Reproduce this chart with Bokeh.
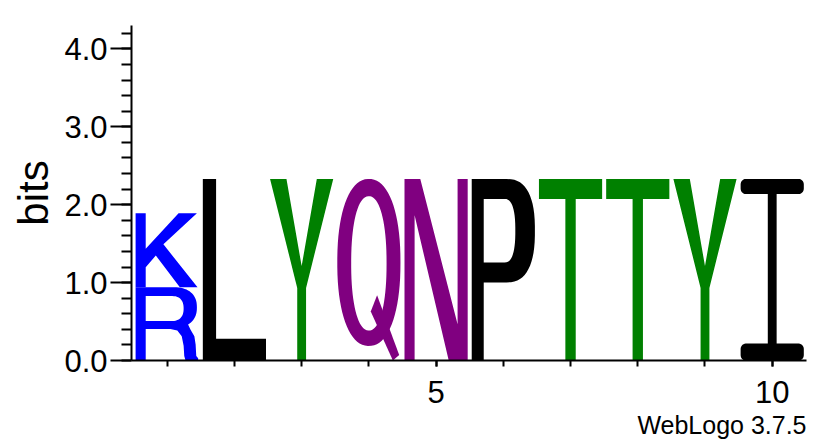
import numpy as np
from bokeh.plotting import figure
from bokeh.models import ColumnDataSource, FixedTicker, Title
from bokeh.embed import file_html
from bokeh.resources import INLINE

# ---------------- data ----------------
positions = [1, 2, 3, 4, 5, 6, 7, 8, 9, 10]
stack_letters = [["R", "K"], ["L"], ["Y"], ["Q"], ["N"], ["P"], ["T"], ["T"], ["Y"], ["I"]]
stack_heights = [[0.94, 0.95], [2.33], [2.33], [2.33], [2.33], [2.33], [2.33], [2.33], [2.33], [2.33]]
letter_colors = {"K": "#0000FF", "R": "#0000FF", "L": "#000000", "P": "#000000", "I": "#000000",
                 "Y": "#008000", "T": "#008000", "Q": "#800080", "N": "#800080"}
y_major_ticks = [0, 1, 2, 3, 4]
y_tick_labels = ["0.0", "1.0", "2.0", "3.0", "4.0"]
x_major_ticks = [5, 10]
x_tick_labels = ["5", "10"]
y_label = "bits"
credit = "WebLogo 3.7.5"

# ------------- letter outlines in a unit box (glyph templates) -------------
def arc(cx, cy, rx, ry, a0, a1, n=28, p=1.0):
    t = np.radians(np.linspace(a0, a1, n))
    c, s = np.cos(t), np.sin(t)
    x = cx + rx * np.sign(c) * np.abs(c) ** p
    y = cy + ry * np.sign(s) * np.abs(s) ** p
    return [(float(a), float(b)) for a, b in zip(x, y)]


def orient(ring, ccw=True):
    a = np.array(ring)
    x, y = a[:, 0], a[:, 1]
    area = 0.5 * np.sum(x * np.roll(y, -1) - np.roll(x, -1) * y)
    if (area > 0) != ccw:
        ring = ring[::-1]
    return ring


def poly(outer, *holes):
    return [orient(outer, True)] + [orient(h, False) for h in holes]


def rounded_I():
    rx, ry, hb, ht, s0, s1 = 0.08, 0.03, 0.093, 0.083, 0.43, 0.57
    pts = []
    pts += arc(rx, ry, rx, ry, 180, 270, 8)
    pts += arc(1 - rx, ry, rx, ry, 270, 360, 8)
    pts += arc(1 - rx, hb - ry, rx, ry, 0, 90, 8)
    pts += [(s1, hb), (s1, 1 - ht)]
    pts += arc(1 - rx, 1 - ht + ry, rx, ry, 270, 360, 8)
    pts += arc(1 - rx, 1 - ry, rx, ry, 0, 90, 8)
    pts += arc(rx, 1 - ry, rx, ry, 90, 180, 8)
    pts += arc(rx, 1 - ht + ry, rx, ry, 180, 270, 8)
    pts += [(s0, 1 - ht), (s0, hb)]
    pts += arc(rx, hb - ry, rx, ry, 90, 180, 8)
    return pts


SHAPES = {
    "L": [poly([(0, 0), (1, 0), (1, 0.12), (0.21, 0.12), (0.21, 1), (0, 1)])],
    "T": [poly([(0, 1), (0, 0.89), (0.418, 0.89), (0.418, 0), (0.582, 0), (0.582, 0.89), (1, 0.89), (1, 1)])],
    "Y": [poly([(0, 1), (0.26, 1), (0.50, 0.52), (0.74, 1), (1, 1), (0.57, 0.40), (0.57, 0),
                (0.43, 0), (0.43, 0.40)])],
    "N": [poly([(0, 0), (0.16, 0), (0.16, 0.80), (0.70, 0), (1, 0), (1, 1), (0.84, 1), (0.84, 0.20),
                (0.25, 1), (0, 1)])],
    "K": [poly([(0, 0), (0.16, 0), (0.16, 0.27), (0.32, 0.43), (0.70, 0), (0.98, 0), (0.44, 0.58),
                (0.97, 1), (0.68, 1), (0.16, 0.52), (0.16, 1), (0, 1)])],
    "P": [poly([(0, 0), (0.19, 0), (0.19, 0.43), (0.55, 0.43)]
               + arc(0.55, 0.715, 0.45, 0.285, -90, 90, 32, 0.8) + [(0, 1)],
               [(0.19, 0.54), (0.52, 0.54)] + arc(0.52, 0.715, 0.17, 0.175, -90, 90, 28, 0.8)
               + [(0.19, 0.89)])],
    "R": [poly([(0, 0), (0.16, 0), (0.16, 0.43), (0.55, 0.43), (0.66, 0.41), (0.73, 0.33),
                (0.76, 0.20), (0.77, 0.06), (0.79, 0), (0.99, 0), (0.99, 0.03), (0.96, 0.06),
                (0.95, 0.22), (0.93, 0.33), (0.87, 0.42)]
               + arc(0.60, 0.725, 0.37, 0.275, -55, 90, 30, 0.85) + [(0, 1)],
               [(0.16, 0.54), (0.58, 0.54)] + arc(0.58, 0.71, 0.18, 0.17, -90, 90, 28, 0.85)
               + [(0.16, 0.88)])],
    "Q": [poly(arc(0.5, 0.54, 0.5, 0.46, 0, 360, 80, 0.9)[:-1],
               arc(0.5, 0.535, 0.28, 0.37, 0, 360, 80, 0.9)[:-1]),
          poly([(0.53, 0.27), (0.63, 0.36), (0.98, 0.03), (0.88, 0.0)])],
    "I": [poly(rounded_I())],
}

PAD = 0.03
rows_xs, rows_ys, rows_c = [], [], []
for pos, letters, heights in zip(positions, stack_letters, stack_heights):
    base = 0.0
    for letter, h in zip(letters, heights):
        for pg in SHAPES[letter]:
            rows_xs.append([[[pos - 0.5 + PAD + ux * (1 - 2 * PAD) for ux, uy in ring] for ring in pg]])
            rows_ys.append([[[base + uy * h for ux, uy in ring] for ring in pg]])
            rows_c.append(letter_colors[letter])
        base += h

src = ColumnDataSource(dict(xs=rows_xs, ys=rows_ys, color=rows_c))

# ---------------- figure ----------------
FONT = "Liberation Sans"
p = figure(frame_width=675, frame_height=335, x_range=(0.469, 10.51), y_range=(0, 4.3),
           output_backend="svg", toolbar_location=None,
           min_border_left=131, min_border_right=25, min_border_top=25, min_border_bottom=0)
p.grid.visible = False
p.outline_line_color = None
p.background_fill_color = "white"
p.border_fill_color = "white"

p.multi_polygons(xs="xs", ys="ys", fill_color="color", line_color=None, source=src)

xa = p.xaxis[0]
xa.ticker = FixedTicker(ticks=x_major_ticks, minor_ticks=positions)
xa.major_label_overrides = {t: s for t, s in zip(x_major_ticks, x_tick_labels)}
xa.major_tick_out = 6
xa.major_tick_in = 0
xa.minor_tick_out = 6
xa.minor_tick_in = 0
xa.major_label_standoff = 14

ya = p.yaxis[0]
ya.ticker = FixedTicker(ticks=y_major_ticks, minor_ticks=list(np.round(np.arange(0, 4.3, 0.2), 1)))
ya.major_label_overrides = {t: s for t, s in zip(y_major_ticks, y_tick_labels)}
ya.major_tick_out = 21
ya.major_tick_in = 0
ya.minor_tick_out = 10
ya.minor_tick_in = 0
ya.major_label_standoff = 3
ya.axis_label = y_label
ya.axis_label_standoff = 4
ya.axis_label_text_font_size = "42px"
ya.axis_label_text_font_style = "normal"
ya.axis_label_text_font = FONT
ya.axis_label_text_color = "black"

for ax in (xa, ya):
    ax.axis_line_width = 2
    ax.axis_line_color = "black"
    ax.major_tick_line_width = 2
    ax.minor_tick_line_width = 2
    ax.major_tick_line_color = "black"
    ax.minor_tick_line_color = "black"
    ax.major_label_text_font = FONT
    ax.major_label_text_font_size = "31px"
    ax.major_label_text_color = "black"

p.add_layout(Title(text=credit, align="right", text_font=FONT, text_font_size="25px",
                   text_font_style="normal", text_color="black", standoff=6, offset=0),
             "below")

open("out.html", "w").write(file_html(p, INLINE))
